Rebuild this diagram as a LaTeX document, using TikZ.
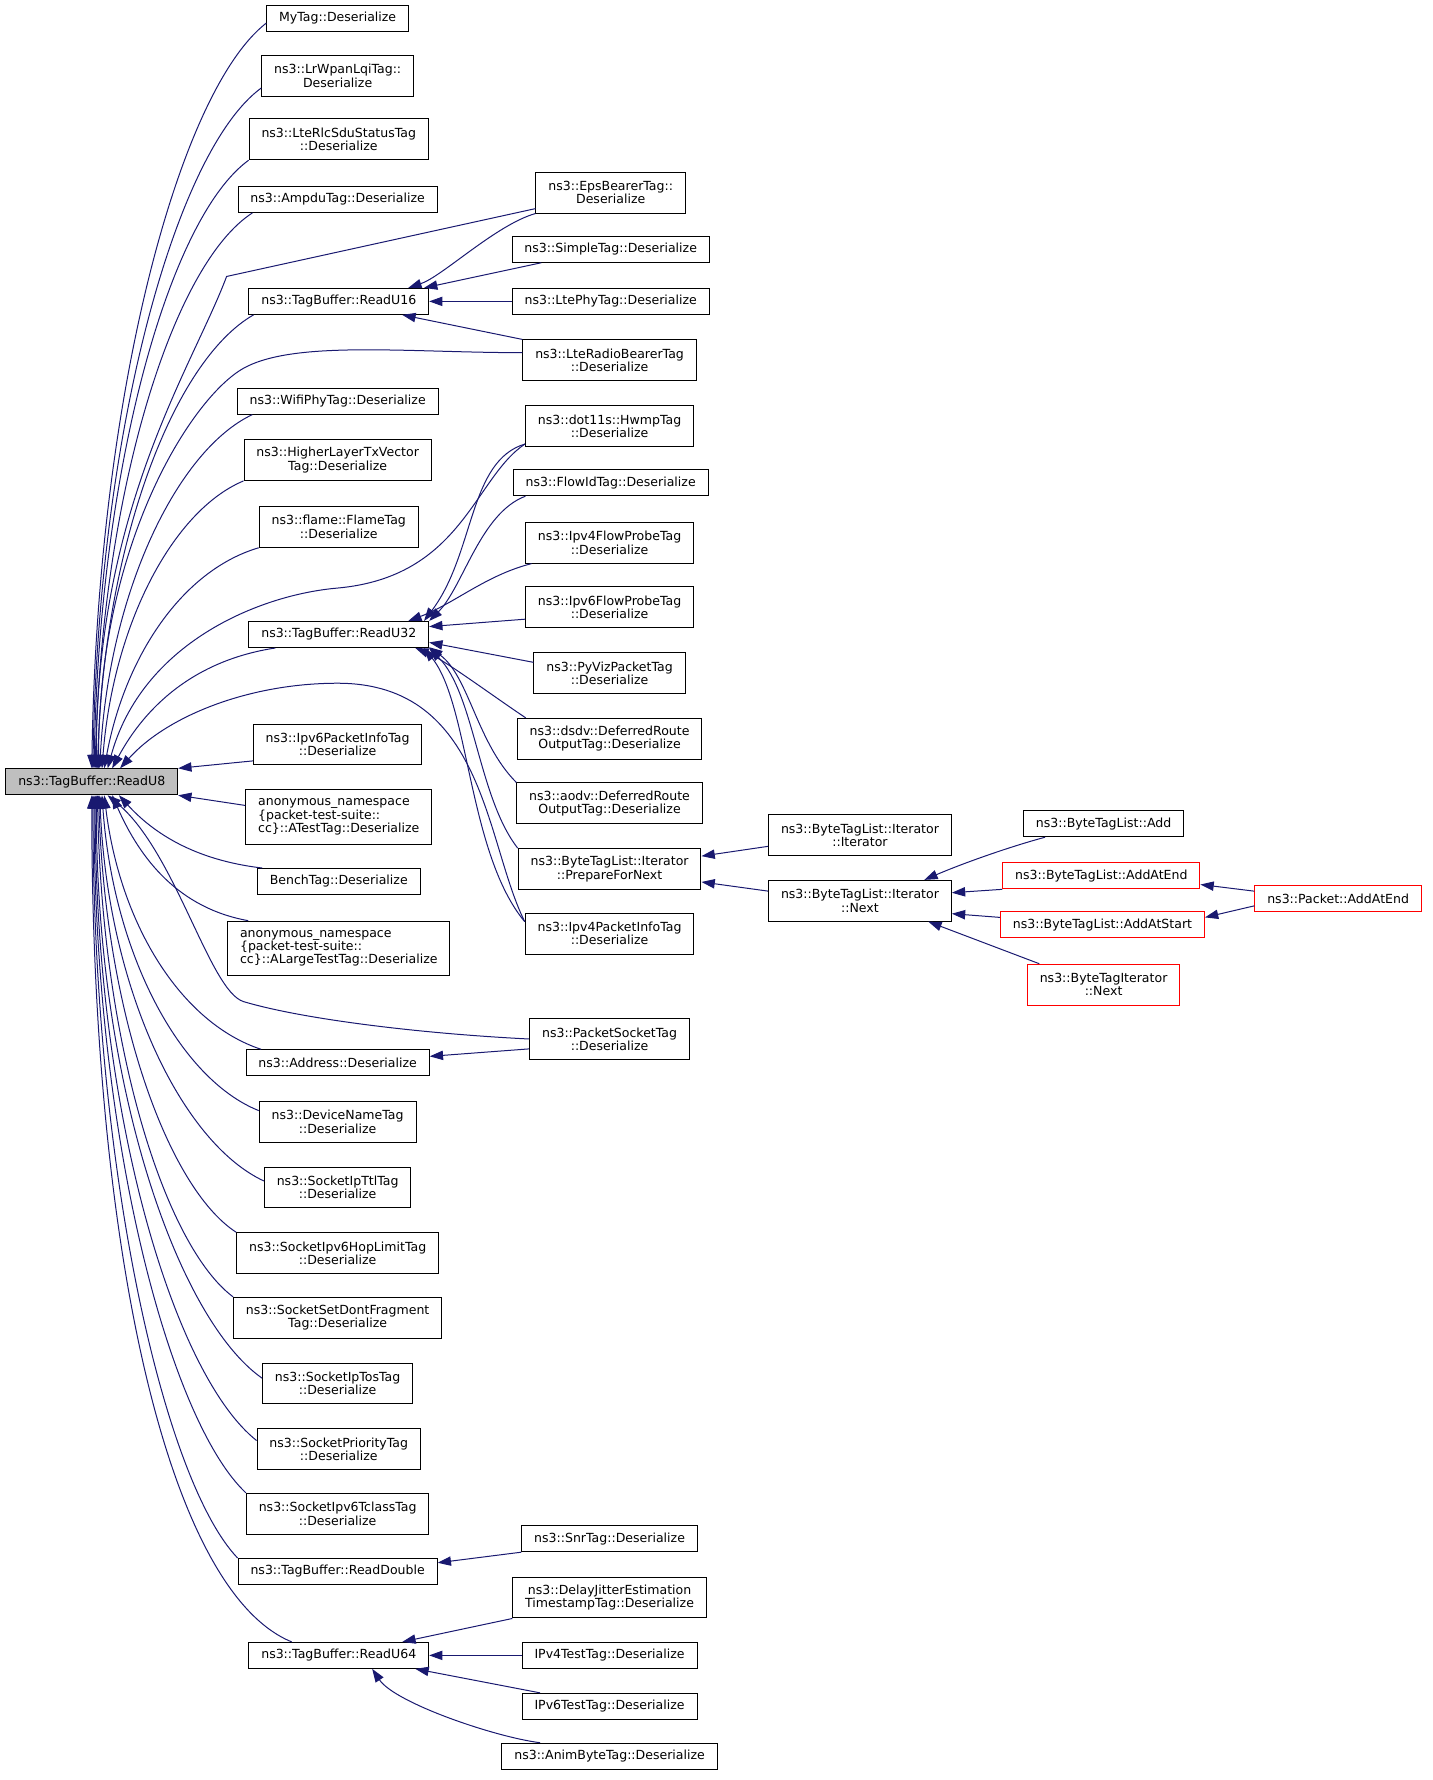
\documentclass[tikz,border=0pt]{standalone}
\usepackage{fontspec}
\setmainfont{DejaVu Sans}
\usepackage{tikz}
\usetikzlibrary{calc,arrows.meta}
\definecolor{edgeblue}{RGB}{25,25,112}

\begin{document}
\begin{tikzpicture}[x=0.85pt,y=0.85pt,
    fn/.style={draw=black,line width=0.75pt,fill=white,font=\fontsize{9.4}{10}\selectfont,align=center,inner xsep=9.3pt,inner ysep=0pt,minimum height=19.5pt},
    two/.style={minimum height=30.6pt},
    three/.style={minimum height=40.8pt,align=left},
    hl/.style={fill=gray!50},
    redfn/.style={draw=red},
    calls/.style={<-,>={Triangle[length=10pt,width=7pt]},draw=edgeblue,line width=0.75pt}]
    \useasboundingbox (0,0) rectangle (1264,-1571);

    \node[fn,hl] (readu8) at (81,-690) {ns3::TagBuffer::ReadU8};

    \node[fn] (mytag) at (298,-16) {MyTag::Deserialize};
    \node[fn,two] (lrwpan) at (298,-67) {ns3::LrWpanLqiTag::\\Deserialize};
    \node[fn,two] (ltrlc) at (299,-123) {ns3::LteRlcSduStatusTag\\::Deserialize};
    \node[fn] (ampdu) at (298,-176) {ns3::AmpduTag::Deserialize};
    \node[fn] (readu16) at (299,-266) {ns3::TagBuffer::ReadU16};
    \node[fn] (wifiphy) at (298,-354) {ns3::WifiPhyTag::Deserialize};
    \node[fn,two] (higher) at (298,-406) {ns3::HigherLayerTxVector\\Tag::Deserialize};
    \node[fn,two] (flame) at (299,-465) {ns3::flame::FlameTag\\::Deserialize};
    \node[fn] (readu32) at (299,-560) {ns3::TagBuffer::ReadU32};
    \node[fn,two] (ipv6info) at (298,-657) {ns3::Ipv6PacketInfoTag\\::Deserialize};
    \node[fn,three] (atest) at (299,-721) {anonymous\_namespace\\\{packet-test-suite::\\cc\}::ATestTag::Deserialize};
    \node[fn] (bench) at (299,-778) {BenchTag::Deserialize};
    \node[fn,three] (alarge) at (299,-837) {anonymous\_namespace\\\{packet-test-suite::\\cc\}::ALargeTestTag::Deserialize};
    \node[fn] (address) at (298,-938) {ns3::Address::Deserialize};
    \node[fn,two] (devname) at (298,-990) {ns3::DeviceNameTag\\::Deserialize};
    \node[fn,two] (ipttl) at (298,-1048) {ns3::SocketIpTtlTag\\::Deserialize};
    \node[fn,two] (hoplimit) at (298,-1106) {ns3::SocketIpv6HopLimitTag\\::Deserialize};
    \node[fn,two] (dontfrag) at (298,-1163) {ns3::SocketSetDontFragment\\Tag::Deserialize};
    \node[fn,two] (iptos) at (298,-1221) {ns3::SocketIpTosTag\\::Deserialize};
    \node[fn,two] (priority) at (299,-1279) {ns3::SocketPriorityTag\\::Deserialize};
    \node[fn,two] (tclass) at (298,-1336) {ns3::SocketIpv6TclassTag\\::Deserialize};
    \node[fn] (readdouble) at (298,-1387) {ns3::TagBuffer::ReadDouble};
    \node[fn] (readu64) at (299,-1461) {ns3::TagBuffer::ReadU64};

    \node[fn,two] (eps) at (539,-170) {ns3::EpsBearerTag::\\Deserialize};
    \node[fn] (simple) at (539,-220) {ns3::SimpleTag::Deserialize};
    \node[fn] (ltephy) at (539,-266) {ns3::LtePhyTag::Deserialize};
    \node[fn,two] (lteradio) at (538,-318) {ns3::LteRadioBearerTag\\::Deserialize};
    \node[fn,two] (hwmp) at (538,-376) {ns3::dot11s::HwmpTag\\::Deserialize};
    \node[fn] (flowid) at (539,-426) {ns3::FlowIdTag::Deserialize};
    \node[fn,two] (ipv4flow) at (538,-479) {ns3::Ipv4FlowProbeTag\\::Deserialize};
    \node[fn,two] (ipv6flow) at (538,-536) {ns3::Ipv6FlowProbeTag\\::Deserialize};
    \node[fn,two] (pyviz) at (538,-594) {ns3::PyVizPacketTag\\::Deserialize};
    \node[fn,two] (dsdv) at (538,-652) {ns3::dsdv::DeferredRoute\\OutputTag::Deserialize};
    \node[fn,two] (aodv) at (538,-709) {ns3::aodv::DeferredRoute\\OutputTag::Deserialize};
    \node[fn,two] (prepare) at (538,-767) {ns3::ByteTagList::Iterator\\::PrepareForNext};
    \node[fn,two] (ipv4info) at (538,-824) {ns3::Ipv4PacketInfoTag\\::Deserialize};
    \node[fn,two] (pktsock) at (538,-917) {ns3::PacketSocketTag\\::Deserialize};
    \node[fn] (snr) at (538,-1358) {ns3::SnrTag::Deserialize};
    \node[fn,two] (delay) at (538,-1410) {ns3::DelayJitterEstimation\\TimestampTag::Deserialize};
    \node[fn] (ipv4test) at (538,-1461) {IPv4TestTag::Deserialize};
    \node[fn] (ipv6test) at (538,-1506) {IPv6TestTag::Deserialize};
    \node[fn] (anim) at (538,-1550) {ns3::AnimByteTag::Deserialize};

    \node[fn,two] (ititer) at (759,-737) {ns3::ByteTagList::Iterator\\::Iterator};
    \node[fn,two] (itnext) at (759,-795) {ns3::ByteTagList::Iterator\\::Next};

    \node[fn] (add) at (974,-727) {ns3::ByteTagList::Add};
    \node[fn,redfn] (addatend) at (972,-773) {ns3::ByteTagList::AddAtEnd};
    \node[fn,redfn] (addatstart) at (973,-816) {ns3::ByteTagList::AddAtStart};
    \node[fn,two,redfn] (btinext) at (974,-869) {ns3::ByteTagIterator\\::Next};

    \node[fn,redfn] (packet) at (1181,-793) {ns3::Packet::AddAtEnd};

    \draw[calls] ($(readu8.north)+(0,0)$) .. controls +(5,330) and +(-77,-60) .. (mytag.184);
    \draw[calls] ($(readu8.north)+(1,0)$) .. controls +(5,300) and +(-75,-55) .. (lrwpan.189);
    \draw[calls] ($(readu8.north)+(2,0)$) .. controls +(5,270) and +(-69,-50) .. (ltrlc.south west);
    \draw[calls] ($(readu8.north)+(3,0)$) .. controls +(6,245) and +(-70,-45) .. (ampdu.189);
    \draw[calls] ($(readu8.north)+(4,0)$) .. controls +(0,230) and +(-30,-80) .. (200,-244) -- (eps.192);
    \draw[calls] ($(readu8.north)+(5,0)$) .. controls +(6,200) and +(-70,-40) .. (readu16.189);
    \draw[calls] ($(readu8.north)+(6,0)$) .. controls +(0,200) and +(-45,-25) .. (215,-325) .. controls +(45,25) and +(-100,0) .. (lteradio.175);
    \draw[calls] ($(readu8.north)+(7,0)$) .. controls +(8,156) and +(-66,-31) .. (wifiphy.189);
    \draw[calls] ($(readu8.north)+(9,0)$) .. controls +(10,128) and +(-62,-26) .. (higher.south west);
    \draw[calls] ($(readu8.north)+(11,0)$) .. controls +(18,98) and +(-68,-20) .. (flame.south west);
    \draw[calls] ($(readu8.north)+(14,0)$) .. controls +(30,110) and +(-70,-6) .. (298,-519) .. controls +(110,10) and +(-45,-30) .. (hwmp.192);
    \draw[calls] ($(readu8.north)+(18,0)$) .. controls +(29,54) and +(-72,-11) .. (readu32.192);
    \draw[calls] ($(readu8.north)+(25,0)$) .. controls +(40,45) and +(-80,0) .. (298,-603) .. controls +(130,0) and +(-35,70) .. (ipv4info.172);
    \draw[calls] (readu8.north east) -- (ipv6info.191);
    \draw[calls] (readu8.south east) -- (atest.173);

    \draw[calls] ($(readu8.south)+(0,0)$) .. controls +(0,-400) and +(-110,45) .. (readu64.164);
    \draw[calls] ($(readu8.south)+(1,0)$) .. controls +(0,-337) and +(-64,67) .. (readdouble.north west);
    \draw[calls] ($(readu8.south)+(2,0)$) .. controls +(0,-308) and +(-66,62) .. (tclass.north west);
    \draw[calls] ($(readu8.south)+(3,0)$) .. controls +(0,-285) and +(-72,57) .. (priority.174);
    \draw[calls] ($(readu8.south)+(4,0)$) .. controls +(0,-258) and +(-74,52) .. (iptos.176);
    \draw[calls] ($(readu8.south)+(5,0)$) .. controls +(4,-222) and +(-60,45) .. (dontfrag.north west);
    \draw[calls] ($(readu8.south)+(6,0)$) .. controls +(6,-194) and +(-60,39) .. (hoplimit.north west);
    \draw[calls] ($(readu8.south)+(7,0)$) .. controls +(7,-170) and +(-73,34) .. (ipttl.175);
    \draw[calls] ($(readu8.south)+(9,0)$) .. controls +(10,-140) and +(-70,28) .. (devname.172);
    \draw[calls] ($(readu8.south)+(11,0)$) .. controls +(14,-115) and +(-70,23) .. (address.170);
    \draw[calls] ($(readu8.south)+(14,0)$) .. controls +(60,-50) and +(-30,9) .. (215,-884) .. controls +(50,-15) and +(-100,5) .. (pktsock.west);
    \draw[calls] ($(readu8.south)+(18,0)$) .. controls +(25,-57) and +(-61,11) .. (alarge.163);
    \draw[calls] ($(readu8.south)+(24,0)$) .. controls +(30,-33) and +(-60,7) .. (bench.170);

    \draw[calls] (readu16.11) .. controls +(30,10) and +(-35,-10) .. (eps.south west);
    \draw[calls] (readu16.9) -- (simple.191);
    \draw[calls] (readu16.east) -- (ltephy.west);
    \draw[calls] (readu16.348) -- (lteradio.north west);

    \draw[calls] (readu32.9) .. controls +(45,60) and +(-50,-15) .. (hwmp.192);
    \draw[calls] (readu32.north east) .. controls +(30,30) and +(-40,-15) .. (flowid.189);
    \draw[calls] (readu32.11) .. controls +(40,15) and +(-40,-10) .. (ipv4flow.195);
    \draw[calls] (readu32.5) -- (ipv6flow.188);
    \draw[calls] (readu32.355) -- (pyviz.172);
    \draw[calls] (readu32.350) .. controls +(25,-10) and +(-30,20) .. (dsdv.166);
    \draw[calls] (readu32.352) .. controls +(35,-25) and +(-35,35) .. (aodv.north west);
    \draw[calls] (readu32.south east) .. controls +(40,-40) and +(-35,45) .. (prepare.north west);
    \draw[calls] (readu32.351) .. controls +(40,-50) and +(-50,60) .. (ipv4info.172);

    \draw[calls] (address.4) -- (pktsock.187);
    \draw[calls] (readdouble.5) -- (snr.south west);
    \draw[calls] (readu64.12) -- (delay.south west);
    \draw[calls] (readu64.east) -- (ipv4test.west);
    \draw[calls] (readu64.350) -- (ipv6test.169);
    \draw[calls] (readu64.338) .. controls +(20,-30) and +(-40,5) .. (anim.169);

    \draw[calls] (prepare.8) -- (ititer.187);
    \draw[calls] (prepare.352) -- (itnext.174);
    \draw[calls] (itnext.18) .. controls +(35,15) and +(-30,-8) .. (add.193);
    \draw[calls] (itnext.5) -- (addatend.south west);
    \draw[calls] (itnext.352) -- (addatstart.176);
    \draw[calls] (itnext.343) -- (btinext.162);
    \draw[calls] (addatend.355) -- (packet.175);
    \draw[calls] (addatstart.4) -- (packet.185);
\end{tikzpicture}
\end{document}
